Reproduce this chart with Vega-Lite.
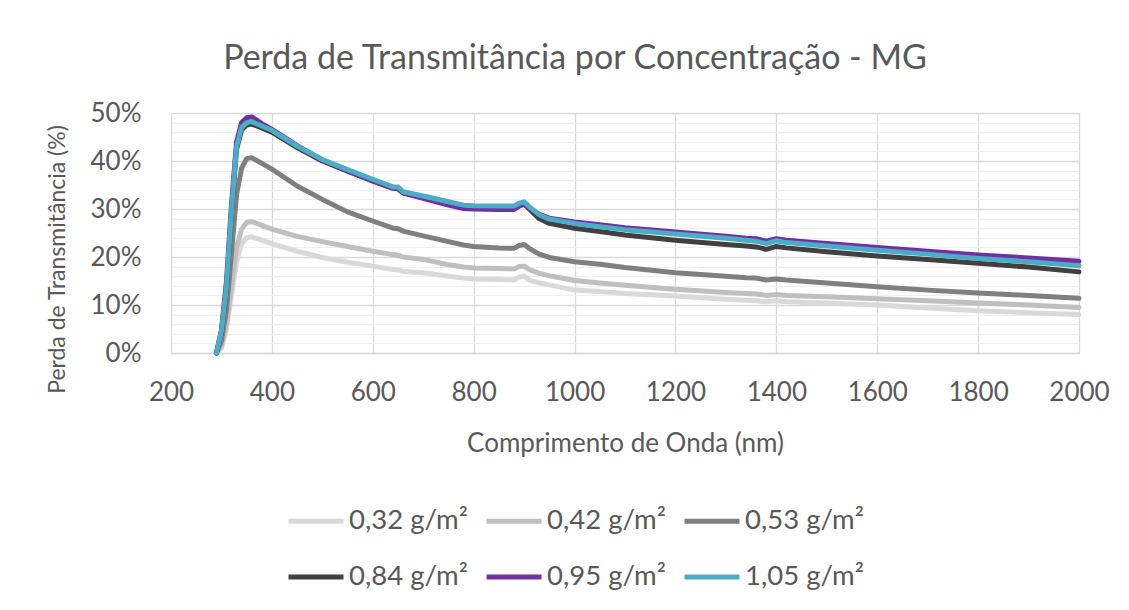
{
  "$schema": "https://vega.github.io/schema/vega-lite/v6.json",
  "width": 908,
  "height": 240,
  "autosize": "none",
  "padding": {"left": 171, "top": 113, "right": 50, "bottom": 257},
  "background": "white",
  "title": {
    "text": "Perda de Transmitância por Concentração - MG",
    "anchor": "middle",
    "frame": "group",
    "dx": -50,
    "offset": 24,
    "fontSize": 34,
    "fontWeight": "normal",
    "color": "#595959",
    "font": "Lato"
  },
  "data": {
    "values": [
      {"nm": 290, "0,32 g/m²": 0, "0,42 g/m²": 0, "0,53 g/m²": 0, "0,84 g/m²": 0, "0,95 g/m²": 0, "1,05 g/m²": 0},
      {"nm": 300, "0,32 g/m²": 1, "0,42 g/m²": 1.5, "0,53 g/m²": 2.5, "0,84 g/m²": 4.2, "0,95 g/m²": 4.8, "1,05 g/m²": 4.5},
      {"nm": 310, "0,32 g/m²": 5, "0,42 g/m²": 6, "0,53 g/m²": 9, "0,84 g/m²": 13.5, "0,95 g/m²": 15, "1,05 g/m²": 14},
      {"nm": 320, "0,32 g/m²": 12, "0,42 g/m²": 14, "0,53 g/m²": 21, "0,84 g/m²": 29.5, "0,95 g/m²": 31, "1,05 g/m²": 30},
      {"nm": 330, "0,32 g/m²": 19, "0,42 g/m²": 22, "0,53 g/m²": 33, "0,84 g/m²": 42.5, "0,95 g/m²": 44, "1,05 g/m²": 43},
      {"nm": 340, "0,32 g/m²": 22.8, "0,42 g/m²": 25.8, "0,53 g/m²": 38.5, "0,84 g/m²": 46.5, "0,95 g/m²": 48, "1,05 g/m²": 47},
      {"nm": 350, "0,32 g/m²": 24, "0,42 g/m²": 27.2, "0,53 g/m²": 40.5, "0,84 g/m²": 47.5, "0,95 g/m²": 49, "1,05 g/m²": 48},
      {"nm": 360, "0,32 g/m²": 24.2, "0,42 g/m²": 27.4, "0,53 g/m²": 40.7, "0,84 g/m²": 47.7, "0,95 g/m²": 49.2, "1,05 g/m²": 48.2},
      {"nm": 380, "0,32 g/m²": 23.5, "0,42 g/m²": 26.6, "0,53 g/m²": 39.5, "0,84 g/m²": 46.9, "0,95 g/m²": 47.8, "1,05 g/m²": 47.3},
      {"nm": 400, "0,32 g/m²": 22.8, "0,42 g/m²": 25.8, "0,53 g/m²": 38.3, "0,84 g/m²": 46, "0,95 g/m²": 46.6, "1,05 g/m²": 46.4},
      {"nm": 450, "0,32 g/m²": 21.2, "0,42 g/m²": 24.3, "0,53 g/m²": 34.8, "0,84 g/m²": 42.8, "0,95 g/m²": 43.2, "1,05 g/m²": 43.1},
      {"nm": 500, "0,32 g/m²": 19.9, "0,42 g/m²": 23.2, "0,53 g/m²": 32, "0,84 g/m²": 40, "0,95 g/m²": 40.2, "1,05 g/m²": 40.3},
      {"nm": 550, "0,32 g/m²": 18.9, "0,42 g/m²": 22.2, "0,53 g/m²": 29.4, "0,84 g/m²": 37.9, "0,95 g/m²": 38, "1,05 g/m²": 38.2},
      {"nm": 600, "0,32 g/m²": 18.1, "0,42 g/m²": 21.2, "0,53 g/m²": 27.5, "0,84 g/m²": 35.9, "0,95 g/m²": 35.8, "1,05 g/m²": 36.2},
      {"nm": 640, "0,32 g/m²": 17.4, "0,42 g/m²": 20.5, "0,53 g/m²": 26, "0,84 g/m²": 34.4, "0,95 g/m²": 34.3, "1,05 g/m²": 34.6},
      {"nm": 650, "0,32 g/m²": 17.3, "0,42 g/m²": 20.4, "0,53 g/m²": 25.9, "0,84 g/m²": 34.3, "0,95 g/m²": 34.2, "1,05 g/m²": 34.6},
      {"nm": 660, "0,32 g/m²": 17, "0,42 g/m²": 20, "0,53 g/m²": 25.4, "0,84 g/m²": 33.4, "0,95 g/m²": 33.3, "1,05 g/m²": 33.6},
      {"nm": 700, "0,32 g/m²": 16.7, "0,42 g/m²": 19.5, "0,53 g/m²": 24.4, "0,84 g/m²": 32.4, "0,95 g/m²": 32.2, "1,05 g/m²": 32.7},
      {"nm": 750, "0,32 g/m²": 16, "0,42 g/m²": 18.4, "0,53 g/m²": 23.2, "0,84 g/m²": 31.2, "0,95 g/m²": 30.8, "1,05 g/m²": 31.5},
      {"nm": 780, "0,32 g/m²": 15.6, "0,42 g/m²": 17.9, "0,53 g/m²": 22.5, "0,84 g/m²": 30.5, "0,95 g/m²": 30.1, "1,05 g/m²": 30.8},
      {"nm": 800, "0,32 g/m²": 15.4, "0,42 g/m²": 17.7, "0,53 g/m²": 22.2, "0,84 g/m²": 30.4, "0,95 g/m²": 30, "1,05 g/m²": 30.7},
      {"nm": 850, "0,32 g/m²": 15.3, "0,42 g/m²": 17.6, "0,53 g/m²": 21.9, "0,84 g/m²": 30.3, "0,95 g/m²": 29.9, "1,05 g/m²": 30.6},
      {"nm": 880, "0,32 g/m²": 15.2, "0,42 g/m²": 17.5, "0,53 g/m²": 21.8, "0,84 g/m²": 30.3, "0,95 g/m²": 29.9, "1,05 g/m²": 30.6},
      {"nm": 890, "0,32 g/m²": 15.8, "0,42 g/m²": 18, "0,53 g/m²": 22.4, "0,84 g/m²": 30.9, "0,95 g/m²": 30.6, "1,05 g/m²": 31.2},
      {"nm": 900, "0,32 g/m²": 16, "0,42 g/m²": 18.1, "0,53 g/m²": 22.6, "0,84 g/m²": 31.1, "0,95 g/m²": 31, "1,05 g/m²": 31.5},
      {"nm": 910, "0,32 g/m²": 15.2, "0,42 g/m²": 17.4, "0,53 g/m²": 21.8, "0,84 g/m²": 30, "0,95 g/m²": 30.2, "1,05 g/m²": 30.5},
      {"nm": 930, "0,32 g/m²": 14.6, "0,42 g/m²": 16.6, "0,53 g/m²": 20.6, "0,84 g/m²": 28, "0,95 g/m²": 28.9, "1,05 g/m²": 28.8},
      {"nm": 950, "0,32 g/m²": 14.2, "0,42 g/m²": 16.1, "0,53 g/m²": 19.9, "0,84 g/m²": 27, "0,95 g/m²": 28.1, "1,05 g/m²": 27.9},
      {"nm": 1000, "0,32 g/m²": 13.1, "0,42 g/m²": 15.1, "0,53 g/m²": 19, "0,84 g/m²": 26, "0,95 g/m²": 27.3, "1,05 g/m²": 27},
      {"nm": 1050, "0,32 g/m²": 12.8, "0,42 g/m²": 14.6, "0,53 g/m²": 18.5, "0,84 g/m²": 25.3, "0,95 g/m²": 26.7, "1,05 g/m²": 26.3},
      {"nm": 1100, "0,32 g/m²": 12.4, "0,42 g/m²": 14.1, "0,53 g/m²": 17.8, "0,84 g/m²": 24.6, "0,95 g/m²": 26.1, "1,05 g/m²": 25.7},
      {"nm": 1200, "0,32 g/m²": 11.9, "0,42 g/m²": 13.3, "0,53 g/m²": 16.7, "0,84 g/m²": 23.5, "0,95 g/m²": 25.2, "1,05 g/m²": 24.8},
      {"nm": 1300, "0,32 g/m²": 11.2, "0,42 g/m²": 12.6, "0,53 g/m²": 16, "0,84 g/m²": 22.6, "0,95 g/m²": 24.3, "1,05 g/m²": 23.9},
      {"nm": 1340, "0,32 g/m²": 11, "0,42 g/m²": 12.4, "0,53 g/m²": 15.7, "0,84 g/m²": 22.3, "0,95 g/m²": 23.9, "1,05 g/m²": 23.5},
      {"nm": 1360, "0,32 g/m²": 10.9, "0,42 g/m²": 12.3, "0,53 g/m²": 15.6, "0,84 g/m²": 22.1, "0,95 g/m²": 23.8, "1,05 g/m²": 23.3},
      {"nm": 1380, "0,32 g/m²": 10.7, "0,42 g/m²": 12, "0,53 g/m²": 15.2, "0,84 g/m²": 21.6, "0,95 g/m²": 23.3, "1,05 g/m²": 22.8},
      {"nm": 1400, "0,32 g/m²": 10.9, "0,42 g/m²": 12.2, "0,53 g/m²": 15.4, "0,84 g/m²": 22.2, "0,95 g/m²": 23.8, "1,05 g/m²": 23.4},
      {"nm": 1420, "0,32 g/m²": 10.7, "0,42 g/m²": 12, "0,53 g/m²": 15.2, "0,84 g/m²": 21.9, "0,95 g/m²": 23.5, "1,05 g/m²": 23},
      {"nm": 1500, "0,32 g/m²": 10.4, "0,42 g/m²": 11.7, "0,53 g/m²": 14.6, "0,84 g/m²": 21.1, "0,95 g/m²": 22.8, "1,05 g/m²": 22.3},
      {"nm": 1600, "0,32 g/m²": 10, "0,42 g/m²": 11.3, "0,53 g/m²": 13.8, "0,84 g/m²": 20.2, "0,95 g/m²": 22, "1,05 g/m²": 21.4},
      {"nm": 1700, "0,32 g/m²": 9.4, "0,42 g/m²": 10.9, "0,53 g/m²": 13.1, "0,84 g/m²": 19.5, "0,95 g/m²": 21.2, "1,05 g/m²": 20.6},
      {"nm": 1800, "0,32 g/m²": 8.8, "0,42 g/m²": 10.4, "0,53 g/m²": 12.5, "0,84 g/m²": 18.7, "0,95 g/m²": 20.4, "1,05 g/m²": 19.7},
      {"nm": 1900, "0,32 g/m²": 8.4, "0,42 g/m²": 10, "0,53 g/m²": 12, "0,84 g/m²": 17.9, "0,95 g/m²": 19.8, "1,05 g/m²": 19},
      {"nm": 2000, "0,32 g/m²": 8, "0,42 g/m²": 9.5, "0,53 g/m²": 11.4, "0,84 g/m²": 16.9, "0,95 g/m²": 19.1, "1,05 g/m²": 18.2}
    ]
  },
  "transform": [
    {"fold": ["0,32 g/m²", "0,42 g/m²", "0,53 g/m²", "0,84 g/m²", "0,95 g/m²", "1,05 g/m²"], "as": ["serie", "v"]}
  ],
  "mark": {"type": "line", "strokeWidth": 5, "strokeCap": "round", "strokeJoin": "round"},
  "encoding": {
    "x": {
      "field": "nm",
      "type": "quantitative",
      "scale": {"domain": [200, 2000], "nice": false, "zero": false},
      "axis": {
        "title": "Comprimento de Onda (nm)",
        "values": [200, 400, 600, 800, 1000, 1200, 1400, 1600, 1800, 2000],
        "format": "d",
        "labelOverlap": false,
        "labelFlush": false,
        "grid": true,
        "gridColor": "#d9d9d9",
        "gridWidth": 1.3,
        "ticks": false,
        "domain": true,
        "domainColor": "#d9d9d9",
        "domainWidth": 1.3,
        "labelPadding": 26,
        "labelFontSize": 26,
        "titleFontSize": 26,
        "titlePadding": 25,
        "titleFontWeight": "normal"
      }
    },
    "y": {
      "field": "v",
      "type": "quantitative",
      "scale": {"domain": [0, 50], "nice": false},
      "axis": {
        "title": "Perda de Transmitância (%)",
        "values": [0, 2, 4, 6, 8, 10, 12, 14, 16, 18, 20, 22, 24, 26, 28, 30, 32, 34, 36, 38, 40, 42, 44, 46, 48, 50],
        "labelExpr": "datum.value % 10 === 0 ? datum.value + '%' : ''",
        "grid": true,
        "gridColor": {"condition": {"test": "datum.value % 10 === 0", "value": "#d9d9d9"}, "value": "#efefef"},
        "gridWidth": {"condition": {"test": "datum.value % 10 === 0", "value": 1.3}, "value": 1},
        "ticks": false,
        "domain": false,
        "labelPadding": 30,
        "labelFontSize": 26,
        "titleFontSize": 23,
        "titlePadding": 21,
        "titleY": 146,
        "titleFontWeight": "normal"
      }
    },
    "color": {
      "field": "serie",
      "type": "nominal",
      "scale": {
        "domain": ["0,32 g/m²", "0,42 g/m²", "0,53 g/m²", "0,84 g/m²", "0,95 g/m²", "1,05 g/m²"],
        "range": ["#d9d9d9", "#bfbfbf", "#7f7f7f", "#404040", "#7030a0", "#4bacc6"]
      },
      "legend": {
        "title": null,
        "orient": "none",
        "legendX": 115,
        "legendY": 378,
        "direction": "horizontal",
        "columns": 3,
        "symbolType": "stroke",
        "symbolSize": 3025,
        "symbolStrokeWidth": 5,
        "labelFontSize": 27.5,
        "labelOffset": 3,
        "columnPadding": 8,
        "rowPadding": 12,
        "labelColor": "#595959",
        "labelLimit": 300
      }
    }
  },
  "config": {
    "font": "Lato",
    "view": {"stroke": null},
    "axis": {"labelColor": "#595959", "titleColor": "#595959", "labelFont": "Lato", "titleFont": "Lato"},
    "legend": {"labelFont": "Lato"}
  }
}
